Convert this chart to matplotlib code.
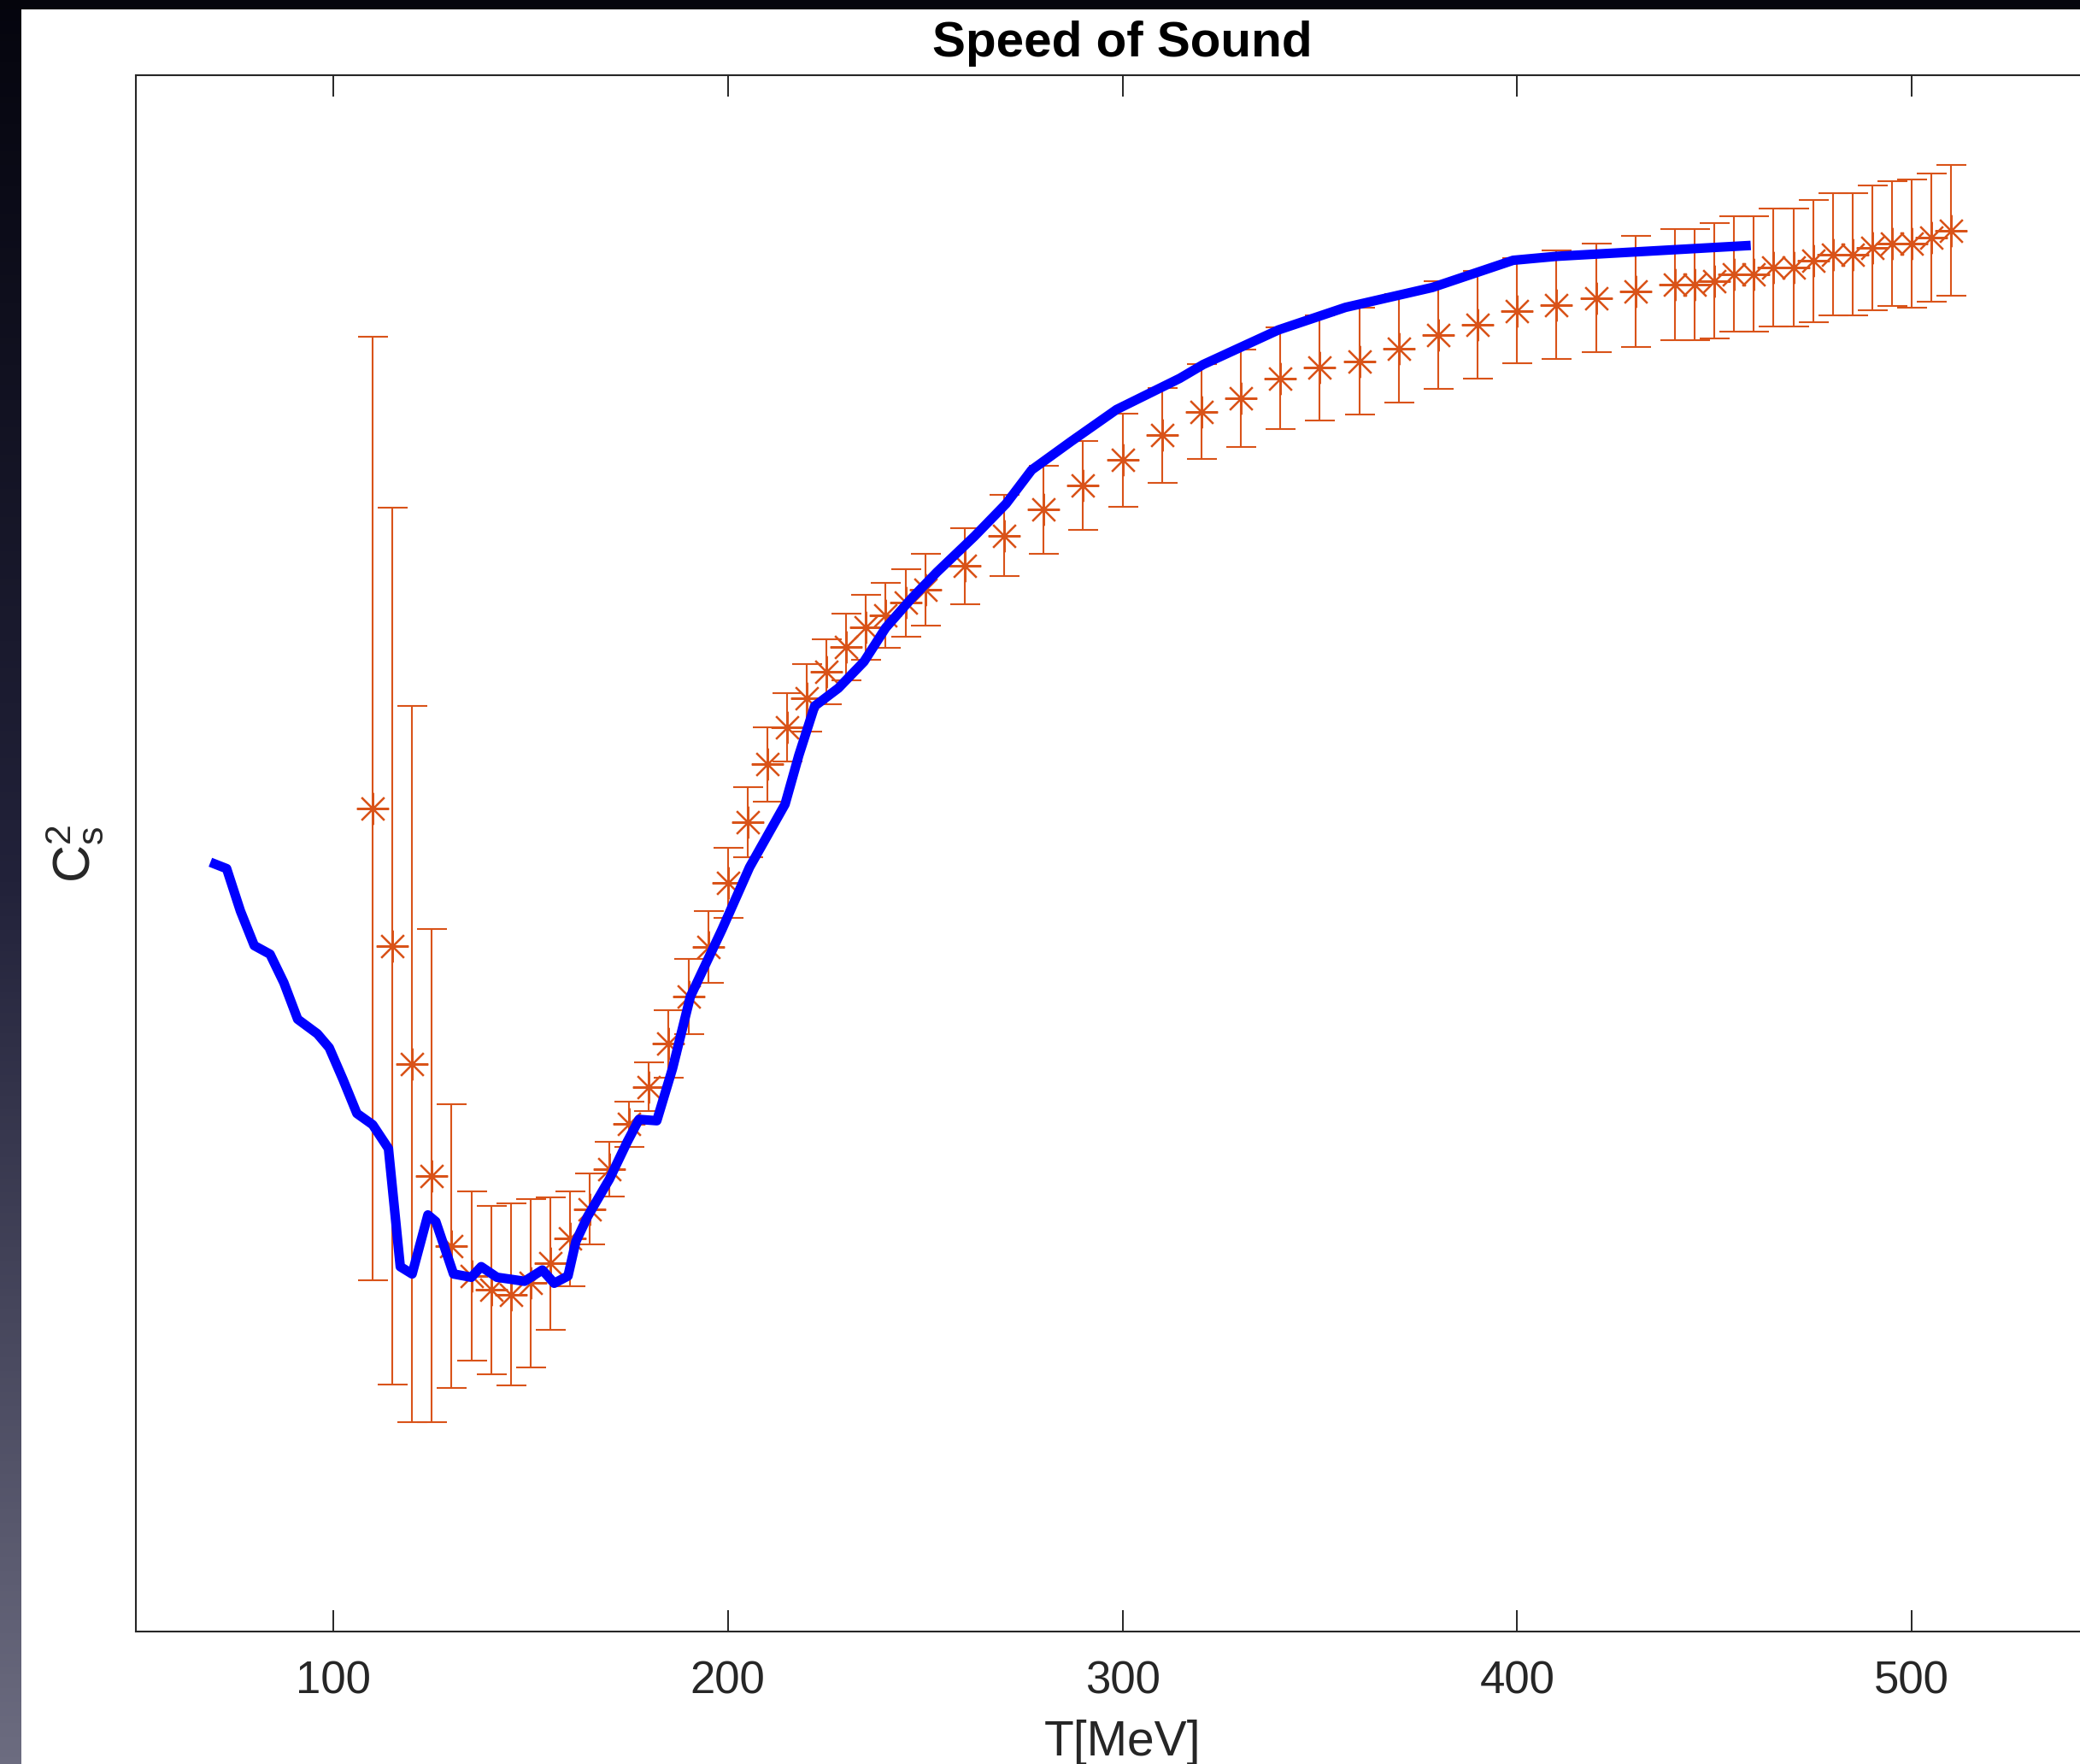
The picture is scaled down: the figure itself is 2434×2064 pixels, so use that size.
import numpy as np
import matplotlib
matplotlib.use('Agg')
import matplotlib.pyplot as plt

# model curve (blue)
T_model = [70, 73, 76.5, 80, 84, 87.5, 91, 96, 99, 102.5, 106, 110, 114, 117, 120,
           124, 126, 130.5, 135, 137.5, 141.5, 148.5, 153, 156, 159.5, 161.5, 164.5,
           170, 174.5, 177.5, 182, 186, 190.5, 198.5, 205.5, 214.5, 218, 222, 228,
           234.5, 240, 246.5, 253, 262.5, 270.5, 277, 287, 298.5, 314.5, 320.5,
           339.5, 356.5, 378.5, 399, 410, 458]
cs2_model = [0.2157, 0.2150, 0.2086, 0.2034, 0.2021, 0.1978, 0.1923, 0.1901, 0.1880,
             0.1832, 0.1781, 0.1764, 0.1728, 0.1550, 0.1539, 0.1628, 0.1618, 0.1539,
             0.1534, 0.1550, 0.1534, 0.1528, 0.1545, 0.1525, 0.1536, 0.1588, 0.1626,
             0.1682, 0.1738, 0.1772, 0.1770, 0.1849, 0.1957, 0.2058, 0.2152, 0.2247,
             0.2321, 0.2395, 0.2422, 0.2462, 0.2513, 0.2557, 0.2597, 0.2651, 0.2700,
             0.2751, 0.2794, 0.2842, 0.2889, 0.2910, 0.2962, 0.2996, 0.3026, 0.3067,
             0.3073, 0.3089]

# lattice points (orange, with error bars)
T_lat = list(range(110, 251, 5)) + list(range(260, 431, 10)) + list(range(440, 511, 5))
cs2_lat = [0.2241, 0.2033, 0.1855, 0.1687, 0.1581, 0.1536, 0.1515, 0.1508, 0.1525,
           0.1555, 0.1592, 0.1637, 0.1697, 0.1765, 0.1821, 0.1886, 0.1957, 0.2032,
           0.2129, 0.2220, 0.2307, 0.2363, 0.2407, 0.2447, 0.2484, 0.2514, 0.2532,
           0.2551, 0.2570,
           0.2606, 0.2652, 0.2691, 0.2728, 0.2766, 0.2803, 0.2839, 0.2859, 0.2889,
           0.2905, 0.2915, 0.2934, 0.2954, 0.2970, 0.2991, 0.3000, 0.3010, 0.3020,
           0.3030, 0.3030, 0.3036, 0.3046, 0.3046, 0.3056, 0.3056, 0.3066, 0.3076,
           0.3076, 0.3086, 0.3092, 0.3092, 0.3101, 0.3112]
cs2_err = [0.0711, 0.0661, 0.0540, 0.0372, 0.0214, 0.0128, 0.0127, 0.0137, 0.0127,
           0.0100, 0.0072, 0.0054, 0.0041, 0.0034, 0.0037, 0.0051, 0.0057, 0.0054,
           0.0053, 0.0053, 0.0056, 0.0052, 0.0051, 0.0049, 0.0050, 0.0049, 0.0049,
           0.0051, 0.0054,
           0.0057, 0.0061, 0.0066, 0.0067, 0.0070, 0.0071, 0.0071, 0.0074, 0.0077,
           0.0079, 0.0080, 0.0082, 0.0081, 0.0081, 0.0079, 0.0082, 0.0082, 0.0084,
           0.0084, 0.0084, 0.0087, 0.0087, 0.0087, 0.0089, 0.0089, 0.0092, 0.0092,
           0.0092, 0.0094, 0.0094, 0.0097, 0.0097, 0.0099]

xticks = [100, 200, 300, 400, 500]

plt.rcParams['font.family'] = ['Liberation Sans', 'DejaVu Sans']

W, H = 2434, 2064
fig = plt.figure(figsize=(W / 200, H / 200), dpi=200)
fig.patch.set_facecolor('white')

# dark screen edges around the window
side = fig.add_axes([0, 0, 25 / W, 1])
grad = np.linspace(0, 1, 256).reshape(-1, 1)
side.imshow(grad, aspect='auto', extent=[0, 1, 0, 1],
            cmap=matplotlib.colors.LinearSegmentedColormap.from_list(
                'edge', ['#05050e', '#22223a', '#6c6c80']))
side.axis('off')
top = fig.add_axes([0, 1 - 11 / H, 1, 11 / H])
top.set_facecolor('#05050c')
top.set_xticks([]); top.set_yticks([])
for s in top.spines.values():
    s.set_visible(False)

ax = fig.add_axes([159 / W, 1 - 1909 / H, 2309 / W, (1909 - 88) / H])

orange = '#D95319'
ax.errorbar(T_lat, cs2_lat, yerr=cs2_err, fmt='none', ecolor=orange,
            elinewidth=0.75, capsize=6.3, capthick=0.75, zorder=2)
ax.plot(T_lat, cs2_lat, linestyle='none', marker=(8, 2, 0), markersize=13.5,
        markeredgewidth=0.8, color=orange, zorder=2)
ax.plot(T_model, cs2_model, color='#0000FF', linewidth=4.0, zorder=3,
        solid_joinstyle='round')

ax.set_xlim(50, 550)
ax.set_ylim(0.1, 0.3346)
ax.set_xticks(xticks)
ax.set_yticks([])
ax.tick_params(axis='x', direction='in', length=9, width=0.7, top=True,
               labelsize=19, pad=12, colors='#262626')
for s in ax.spines.values():
    s.set_color('#262626')
    s.set_linewidth(0.75)

ax.set_title('Speed of Sound', fontsize=21, fontweight='bold', pad=8)
ax.set_xlabel('T[MeV]', fontsize=20.5, color='#262626', labelpad=7)
ax.set_ylabel(r'$\mathregular{C_s^2}$', fontsize=22, color='#262626', labelpad=13)

fig.savefig('out.png', dpi=200)
